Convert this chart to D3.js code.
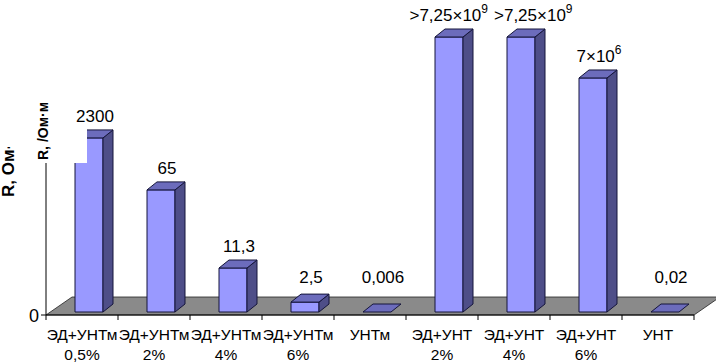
<!DOCTYPE html>
<html>
<head>
<meta charset="utf-8">
<script src="https://cdn.jsdelivr.net/npm/d3@7"></script>
<style>
  body { margin: 0; background: #fff; }
  text { font-family: "Liberation Sans", Arial, sans-serif; }
</style>
</head>
<body>
<div id="chart"></div>
<script>
// categories (two-line labels)
const catLine1 = ["ЭД+УНТм", "ЭД+УНТм", "ЭД+УНТм", "ЭД+УНТм", "УНТм", "ЭД+УНТ", "ЭД+УНТ", "ЭД+УНТ", "УНТ"];
const catLine2 = ["0,5%", "2%", "4%", "6%", "", "2%", "4%", "6%", ""];
// bar heights as drawn (relative units, tallest = 100; the axis is unlabelled)
const barHeights = [63.3, 44.4, 16, 3.6, 0, 100, 100, 85.1, 0];
// value labels: mantissa text and optional power of ten
const labelText = ["2300", "65", "11,3", "2,5", "0,006", ">7,25×10", ">7,25×10", "7×10", "0,02"];
const labelExp = ["", "", "", "", "", "9", "9", "6", ""];

const WIDTH = 716, HEIGHT = 363;
const AXIS_Y = 315, AXIS_X = 46;
const FLOOR = { DX: 26, DY: -18 };
const BAR = { W: 28, DX: 10, DY: -8, BASE: 312 };

const svg = d3.select("#chart").append("svg")
  .attr("width", WIDTH).attr("height", HEIGHT);

const x = d3.scaleBand()
  .domain(d3.range(catLine1.length))
  .range([AXIS_X, 694])
  .padding(0);

const y = d3.scaleLinear().domain([0, 100]).range([BAR.BASE, 37]);

// floor
svg.append("path")
  .attr("d", `M${AXIS_X},${AXIS_Y}L${AXIS_X + FLOOR.DX},${AXIS_Y + FLOOR.DY}L${WIDTH + 4},${AXIS_Y + FLOOR.DY}L${694},${AXIS_Y}Z`)
  .attr("fill", "#8a8a8a")
  .attr("stroke", "#222")
  .attr("stroke-width", 0.8);

// bars
const bars = svg.append("g").selectAll("g")
  .data(barHeights)
  .join("g");

bars.each(function (v, i) {
  const g = d3.select(this);
  const x0 = x(i) + x.bandwidth() / 2 - 7;
  const x1 = x0 + BAR.W;
  const yb = BAR.BASE;
  const yt = y(v);
  if (v > 0) {
    // front
    g.append("path")
      .attr("d", `M${x0},${yb}L${x1},${yb}L${x1},${yt}L${x0},${yt}Z`)
      .attr("fill", "#9999ff");
    // side
    g.append("path")
      .attr("d", `M${x1},${yb}L${x1 + BAR.DX},${yb + BAR.DY}L${x1 + BAR.DX},${yt + BAR.DY}L${x1},${yt}Z`)
      .attr("fill", "#4e4e88");
  }
  // top
  g.append("path")
    .attr("d", `M${x0},${yt}L${x1},${yt}L${x1 + BAR.DX},${yt + BAR.DY}L${x0 + BAR.DX},${yt + BAR.DY}Z`)
    .attr("fill", "#6c6cbc");
  g.selectAll("path")
    .attr("stroke", "#14143a")
    .attr("stroke-width", 1)
    .attr("stroke-linejoin", "round");
});

// axes
svg.append("line")
  .attr("x1", AXIS_X).attr("x2", AXIS_X)
  .attr("y1", 150).attr("y2", AXIS_Y)
  .attr("stroke", "#000");
svg.append("line")
  .attr("x1", AXIS_X - 5).attr("x2", 694)
  .attr("y1", AXIS_Y).attr("y2", AXIS_Y)
  .attr("stroke", "#000");
svg.append("g").selectAll("line")
  .data(d3.range(catLine1.length + 1))
  .join("line")
  .attr("x1", (d) => AXIS_X + d * x.bandwidth())
  .attr("x2", (d) => AXIS_X + d * x.bandwidth())
  .attr("y1", AXIS_Y).attr("y2", AXIS_Y + 5)
  .attr("stroke", "#000");

svg.append("text")
  .attr("x", AXIS_X - 7).attr("y", AXIS_Y + 7)
  .attr("text-anchor", "end")
  .style("font-size", "18px")
  .text("0");

// category labels
const cats = svg.append("g").selectAll("text")
  .data(catLine1)
  .join("text")
  .attr("text-anchor", "middle")
  .style("font-size", "15.5px")
  .attr("transform", (d, i) => `translate(${x(i) + x.bandwidth() / 2},0)`);
cats.append("tspan").attr("x", 0).attr("y", 340).text((d) => d);
cats.append("tspan").attr("x", 0).attr("y", 360).text((d, i) => catLine2[i]);

// y titles (one partly hidden behind the other's white box)
svg.append("text")
  .attr("transform", "translate(14,197) rotate(-90)")
  .style("font-size", "17px").style("font-weight", "bold")
  .text("R, Ом·м");
svg.append("rect").attr("x", 0).attr("y", 0).attr("width", 30).attr("height", 147).attr("fill", "#fff");
svg.append("rect").attr("x", 30).attr("y", 0).attr("width", 57).attr("height", 163).attr("fill", "#fff");
svg.append("text")
  .attr("transform", "translate(48,160) rotate(-90)")
  .style("font-size", "14px").style("font-weight", "bold")
  .text("R, /Ом·м");

// value labels
const labels = svg.append("g").selectAll("text")
  .data(barHeights)
  .join("text")
  .attr("text-anchor", "middle")
  .style("font-size", "17px")
  .attr("y", (d) => Math.min(y(d) + BAR.DY - 8, 283));
labels.append("tspan").text((d, i) => labelText[i]);
labels.append("tspan")
  .attr("dy", -8)
  .style("font-size", "12px")
  .text((d, i) => labelExp[i]);

// place labels above bars, then push apart neighbours on the same row that collide
const lx = barHeights.map((d, i) => x(i) + x.bandwidth() / 2 - 7 + BAR.W / 2 + 6);
const lw = labels.nodes().map((n) => n.getComputedTextLength());
const ly = barHeights.map((d) => Math.min(y(d) + BAR.DY - 8, 283));
for (let i = 0; i < lx.length - 1; i++) {
  const gap = (lx[i + 1] - lw[i + 1] / 2) - (lx[i] + lw[i] / 2);
  if (Math.abs(ly[i] - ly[i + 1]) < 16 && gap < 6) {
    const push = (6 - gap) / 2;
    lx[i] -= push;
    lx[i + 1] += push;
  }
}
labels.attr("x", (d, i) => lx[i]);
</script>
</body>
</html>
